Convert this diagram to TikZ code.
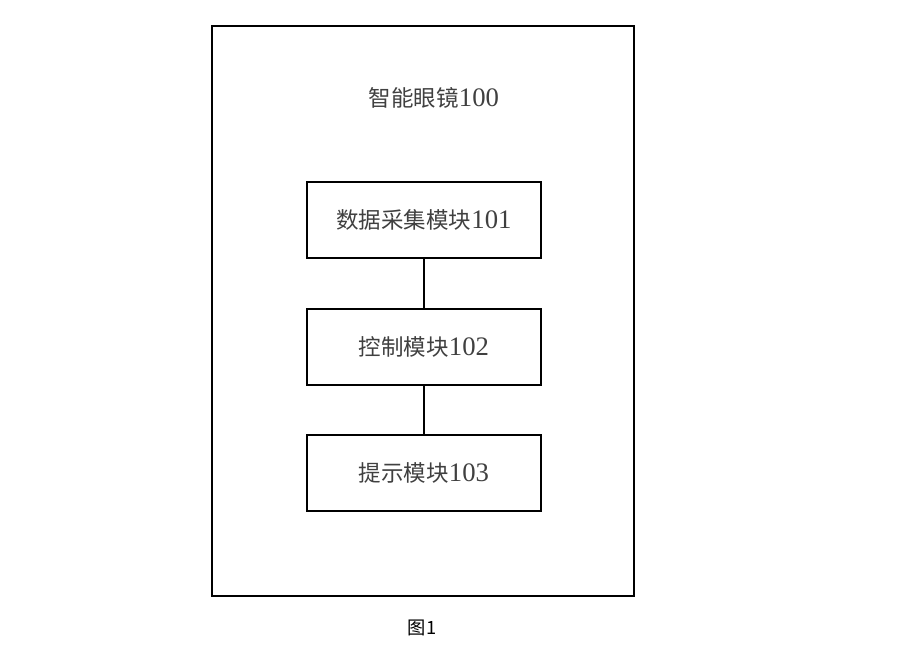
\documentclass[tikz,border=0pt]{standalone}
\usepackage{fontspec}
\setmainfont{Liberation Serif}
\newfontfamily\cjk{Noto Sans CJK SC}
\newcommand{\num}[1]{{\fontsize{19}{19}\selectfont #1}}
\usetikzlibrary{positioning}

\begin{document}
\begin{tikzpicture}[
  x=0.025cm, y=-0.025cm,
  outer/.style={draw, rectangle, line width=1.4pt, minimum width=10.55cm, minimum height=14.25cm},
  module/.style={draw, rectangle, line width=1.3pt, minimum width=5.85cm, minimum height=1.9cm, align=center, font=\fontsize{16}{19}\selectfont, text=black!75},
  label/.style={font=\fontsize{16}{19}\selectfont, text=black!75},
  link/.style={line width=1.1pt}
]
\useasboundingbox (0,0) rectangle (899,648);

% ================= OUTER BOX =================
\node[outer] (glasses) at (423,311) {};
\node[label] (title) at (434,98) {{\cjk 智能眼镜}\num{100}};

% ================= MODULES =================
\node[module] (collect) at (424,220) {{\cjk 数据采集模块}\num{101}};
\node[module] (control) at (424,347) {{\cjk 控制模块}\num{102}};
\node[module] (prompt) at (424,473) {{\cjk 提示模块}\num{103}};

% ================= LINKS =================
\draw[link] (collect) -- (control);
\draw[link] (control) -- (prompt);

% caption
\node[font=\cjk\fontsize{13}{15}\selectfont] (fig) at (422,628) {图1};

\end{tikzpicture}
\end{document}
